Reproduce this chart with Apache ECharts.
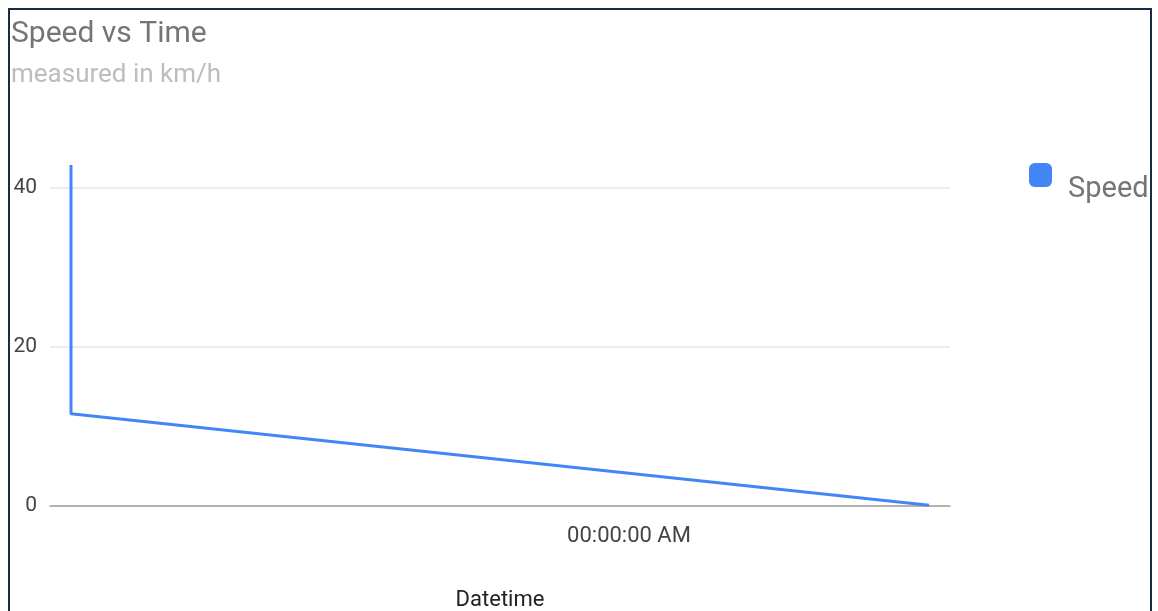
<!DOCTYPE html>
<html>
<head>
<meta charset="utf-8">
<script src="https://cdn.jsdelivr.net/npm/echarts@6/dist/echarts.min.js"></script>
<style>
  html, body { margin: 0; padding: 0; background: #fff; }
  #chart { width: 1158px; height: 611px; }
  #frame {
    position: absolute; left: 8px; top: 8px; width: 1140px; height: 700px;
    border: 2px solid #1c2b45; pointer-events: none;
  }
</style>
</head>
<body>
<div id="chart"></div>
<div id="frame"></div>
<script>
// time offsets (seconds) and measured speed (km/h)
var times = [0, 0, 858];
var speeds = [42.9, 11.6, 0.1];
var xLabelTimes = [558];
var xLabels = ['00:00:00 AM'];
var yTicks = [0, 20, 40];

var chart = echarts.init(document.getElementById('chart'));
var font = 'Roboto, "Noto Sans", sans-serif';

chart.setOption({
    animation: false,
    textStyle: { fontFamily: font },
    title: {
        text: 'Speed vs Time',
        subtext: 'measured in km/h',
        left: 6,
        top: 14,
        itemGap: 13,
        textStyle: { fontFamily: font, fontSize: 30, fontWeight: 'normal', color: '#757575' },
        subtextStyle: { fontFamily: font, fontSize: 26, color: '#bdbdbd' }
    },
    legend: {
        data: ['Speed'],
        left: 1024,
        top: 150,
        itemWidth: 23,
        itemHeight: 24,
        itemGap: 10,
        icon: 'roundRect',
        // push the label a bit below the swatch, like the original
        formatter: function (name) { return '{a| }\n{b|' + name + '}'; },
        textStyle: {
            fontFamily: font,
            color: '#757575',
            padding: [0, 0, 0, 11],
            rich: {
                a: { fontSize: 10, lineHeight: 29 },
                b: { fontFamily: font, fontSize: 29, lineHeight: 30, color: '#757575' }
            }
        }
    },
    grid: { left: 50, right: 208, top: 188, bottom: 105, containLabel: false, outerBoundsMode: 'none' },
    xAxis: {
        type: 'value',
        min: -21,
        max: 879,
        name: 'Datetime',
        nameLocation: 'middle',
        nameGap: 83,
        nameTextStyle: { fontFamily: font, fontSize: 22, color: '#222' },
        axisLine: { show: true, lineStyle: { color: '#9e9e9e', width: 1.5 } },
        axisTick: { show: false },
        splitLine: { show: false },
        axisLabel: {
            customValues: xLabelTimes,
            formatter: function (v) { return xLabels[xLabelTimes.indexOf(v)] || ''; },
            margin: 19,
            fontFamily: font,
            fontSize: 22,
            color: '#444'
        }
    },
    yAxis: {
        type: 'value',
        min: 0,
        max: 40,
        interval: 20,
        axisLine: { show: false },
        axisTick: { show: false },
        splitLine: { show: true, lineStyle: { color: '#e6e6e6', width: 1.5 } },
        axisLabel: {
            customValues: yTicks,
            margin: 13,
            fontFamily: font,
            fontSize: 21,
            color: '#444'
        }
    },
    series: [{
        name: 'Speed',
        type: 'line',
        data: times.map(function (t, i) { return [t, speeds[i]]; }),
        showSymbol: false,
        clip: false,
        lineStyle: { color: '#4285f4', width: 3 },
        itemStyle: { color: '#4285f4' },
        z: 5
    }]
});
</script>
</body>
</html>
